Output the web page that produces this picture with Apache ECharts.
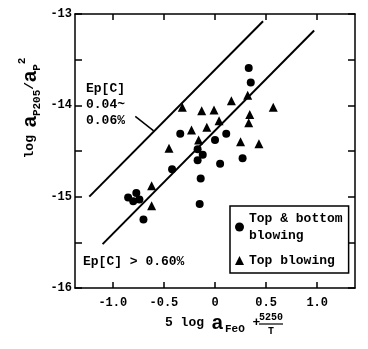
<!DOCTYPE html>
<html>
<head>
<meta charset="utf-8">
<script src="https://cdn.jsdelivr.net/npm/echarts@6/dist/echarts.min.js"></script>
<style>
html, body { margin: 0; padding: 0; background: #fff; }
#app { width: 368px; height: 349px; }
</style>
</head>
<body>
<div id="app"></div>
<script>
// top & bottom blowing (circles)
const bothX = [0.33, 0.35, -0.34, 0.11, 0.00, -0.17, -0.12, -0.17, 0.05, 0.27, -0.42, -0.14, -0.15, -0.85, -0.80, -0.77, -0.74, -0.70];
const bothY = [-13.59, -13.75, -14.31, -14.31, -14.38, -14.48, -14.54, -14.60, -14.64, -14.58, -14.70, -14.80, -15.08, -15.01, -15.05, -14.96, -15.03, -15.25];
// top blowing (triangles)
const topX = [-0.32, -0.13, -0.01, 0.16, 0.32, 0.57, 0.34, 0.33, 0.04, -0.08, -0.23, -0.16, 0.25, 0.43, -0.45, -0.62, -0.62];
const topY = [-14.02, -14.06, -14.05, -13.95, -13.89, -14.02, -14.10, -14.19, -14.17, -14.24, -14.27, -14.38, -14.40, -14.42, -14.47, -14.88, -15.10];
// reference lines
const upperLineX = [-1.23, 0.47];
const upperLineY = [-15.00, -13.08];
const lowerLineX = [-1.10, 0.97];
const lowerLineY = [-15.52, -13.18];
const leaderX = [-0.78, -0.60];
const leaderY = [-14.12, -14.28];
// axis ticks
const xTicks = [-1.0, -0.5, 0, 0.5, 1.0];
const yTicks = [-16, -15, -14, -13];

const FONT = '"Liberation Mono", monospace';
const zip = (xs, ys) => xs.map((x, i) => [x, ys[i]]);

const chart = echarts.init(document.getElementById('app'), null, {renderer: 'canvas'});

const lineSeries = (xs, ys, w) => ({
    type: 'line',
    silent: true,
    symbol: 'none',
    xAxisIndex: 0,
    yAxisIndex: 0,
    lineStyle: {color: '#000', width: w},
    data: zip(xs, ys)
});

const xAxisBase = {
    type: 'value',
    min: -1.37,
    max: 1.37,
    splitLine: {show: false},
    axisLine: {show: true, onZero: false, lineStyle: {color: '#000', width: 1.5}},
    axisTick: {show: true, inside: true, length: 6, customValues: xTicks, lineStyle: {color: '#000', width: 1.5}}
};
const yAxisBase = {
    type: 'value',
    min: -16,
    max: -13,
    interval: 0.5,
    splitLine: {show: false},
    axisLine: {show: true, onZero: false, lineStyle: {color: '#000', width: 1.5}},
    axisTick: {show: true, inside: true, length: 7, lineStyle: {color: '#000', width: 1.5}}
};

const option = {
    animation: false,
    backgroundColor: '#fff',
    grid: {left: 75, right: 13, top: 14, bottom: 61, outerBoundsMode: 'none'},
    legend: {
        orient: 'vertical',
        left: 230,
        top: 206,
        padding: [4, 6, 4, 5],
        itemGap: 8,
        itemWidth: 9,
        itemHeight: 9,
        borderColor: '#000',
        borderWidth: 1.5,
        data: [{name: 'Top & bottom blowing', icon: 'circle'}, {name: 'Top blowing', icon: 'triangle'}],
        formatter: name => name === 'Top & bottom blowing' ? 'Top & bottom\nblowing' : name,
        textStyle: {fontFamily: FONT, fontSize: 13, fontWeight: 'bold', color: '#000', lineHeight: 17}
    },
    xAxis: [
        Object.assign({}, xAxisBase, {
            position: 'bottom',
            axisLabel: {
                customValues: xTicks,
                margin: 9,
                fontFamily: FONT, fontSize: 12, fontWeight: 'bold', color: '#000',
                formatter: v => v === 0 ? '0' : v.toFixed(1)
            }
        }),
        Object.assign({}, xAxisBase, {position: 'top', axisLabel: {show: false}})
    ],
    yAxis: [
        Object.assign({}, yAxisBase, {
            position: 'left',
            axisLabel: {
                customValues: yTicks,
                margin: 3,
                fontFamily: FONT, fontSize: 12, fontWeight: 'bold', color: '#000',
                formatter: v => String(v)
            }
        }),
        Object.assign({}, yAxisBase, {position: 'right', axisLabel: {show: false}})
    ],
    series: [
        {
            name: 'Top & bottom blowing',
            type: 'scatter',
            symbol: 'circle',
            symbolSize: 8,
            itemStyle: {color: '#000', opacity: 1},
            emphasis: {disabled: true},
            data: zip(bothX, bothY)
        },
        {
            name: 'Top blowing',
            type: 'scatter',
            symbol: 'triangle',
            symbolSize: 9,
            itemStyle: {color: '#000', opacity: 1},
            emphasis: {disabled: true},
            data: zip(topX, topY)
        },
        lineSeries(upperLineX, upperLineY, 2),
        lineSeries(lowerLineX, lowerLineY, 2),
        lineSeries(leaderX, leaderY, 1.5)
    ],
    graphic: [
        {
            type: 'text', x: 86, y: 81,
            style: {text: 'Ep[C]\n0.04~\n0.06%', font: 'bold 13px ' + FONT, lineHeight: 16, fill: '#000'}
        },
        {
            type: 'text', x: 83, y: 262,
            style: {text: 'Ep[C] > 0.60%', font: 'bold 13px ' + FONT, fill: '#000', verticalAlign: 'middle'}
        },
        {
            // x axis title
            type: 'text', x: 165, y: 323,
            style: {
                text: '{n|5 log }{a|a}{s|FeO}{n| +}',
                verticalAlign: 'middle',
                rich: {
                    n: {fontFamily: FONT, fontSize: 13, fontWeight: 'bold', color: '#000', lineHeight: 24, verticalAlign: 'middle'},
                    a: {fontFamily: '"Liberation Sans", sans-serif', fontSize: 20, fontWeight: 'bold', color: '#000', lineHeight: 24, verticalAlign: 'middle'},
                    s: {fontFamily: FONT, fontSize: 11, fontWeight: 'bold', color: '#000', lineHeight: 14, verticalAlign: 'bottom', padding: [0, 0, 0, 2]}
                }
            }
        },
        {
            type: 'text', x: 271, y: 317,
            style: {text: '5250', font: 'bold 10px ' + FONT, fill: '#000', align: 'center', verticalAlign: 'middle'}
        },
        {
            type: 'line', shape: {x1: 259, y1: 324, x2: 283, y2: 324},
            style: {stroke: '#000', lineWidth: 1.2}
        },
        {
            type: 'text', x: 271, y: 331,
            style: {text: 'T', font: 'bold 10px ' + FONT, fill: '#000', align: 'center', verticalAlign: 'middle'}
        },
        {
            // y axis title
            type: 'text', x: 30, y: 108, rotation: Math.PI / 2,
            style: {
                text: '{n|log }{a|a}{s|P205}{n|/}{a|a}{s|P}{p|2}',
                align: 'center',
                verticalAlign: 'middle',
                rich: {
                    n: {fontFamily: FONT, fontSize: 13, fontWeight: 'bold', color: '#000', lineHeight: 26, verticalAlign: 'middle'},
                    a: {fontFamily: '"Liberation Sans", sans-serif', fontSize: 20, fontWeight: 'bold', color: '#000', lineHeight: 26, verticalAlign: 'middle'},
                    s: {fontFamily: FONT, fontSize: 11, fontWeight: 'bold', color: '#000', lineHeight: 14, verticalAlign: 'bottom'},
                    p: {fontFamily: FONT, fontSize: 11, fontWeight: 'bold', color: '#000', lineHeight: 14, verticalAlign: 'top'}
                }
            }
        }
    ]
};

chart.setOption(option);
addEventListener('resize', () => chart.resize());
</script>
</body>
</html>
